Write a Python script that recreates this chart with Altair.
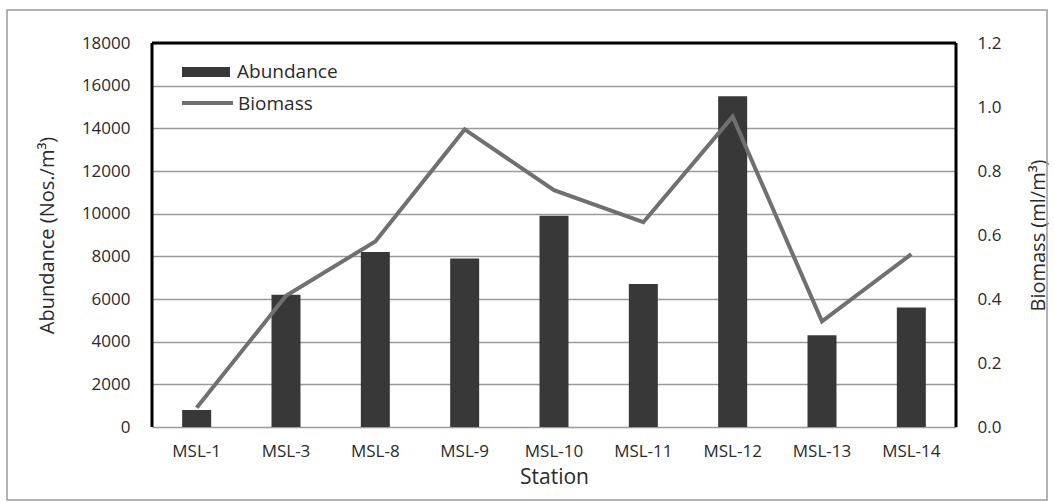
import altair as alt
import pandas as pd

# Zooplankton abundance and biomass per sampling station
stations = ["MSL-1", "MSL-3", "MSL-8", "MSL-9", "MSL-10", "MSL-11", "MSL-12", "MSL-13", "MSL-14"]
abundance = [800, 6200, 8200, 7900, 9900, 6700, 15500, 4300, 5600]
biomass = [0.06, 0.41, 0.58, 0.93, 0.74, 0.64, 0.97, 0.33, 0.54]

abundance_ticks = [0, 2000, 4000, 6000, 8000, 10000, 12000, 14000, 16000, 18000]
biomass_ticks = [0.0, 0.2, 0.4, 0.6, 0.8, 1.0, 1.2]

df = pd.DataFrame({"Station": stations, "Abundance": abundance, "Biomass": biomass})
one = pd.DataFrame({"k": [0]})

W, H = 804, 384
FONT = "Open Sans"
TXT = "#2a2a2a"

x_enc = alt.X(
    "Station:N",
    sort=stations,
    scale=alt.Scale(paddingInner=0, paddingOuter=0),
    axis=alt.Axis(
        title="Station", labelAngle=0, labelFontSize=17, labelFont=FONT, labelColor=TXT,
        labelPadding=16, ticks=False, domain=False, grid=False,
        titleFontSize=21, titleFont=FONT, titleColor=TXT, titleFontWeight="normal",
        titlePadding=7,
    ),
)

bars = alt.Chart(df).mark_bar(size=29, color="#383838").encode(
    x=x_enc,
    y=alt.Y(
        "Abundance:Q",
        scale=alt.Scale(domain=[0, 18000], nice=False),
        axis=alt.Axis(
            title="Abundance (Nos./m³)", values=abundance_ticks, format="d",
            labelFontSize=17, labelFont=FONT, labelColor=TXT, labelPadding=22,
            ticks=False, domain=False, grid=True, gridColor="#9a9a9a", gridWidth=1.6,
            titleFontSize=20, titleFont=FONT, titleColor=TXT, titleFontWeight="normal",
            titlePadding=24,
        ),
    ),
)

line = alt.Chart(df).mark_line(color="#707070", strokeWidth=4).encode(
    x=alt.X("Station:N", sort=stations),
    y=alt.Y(
        "Biomass:Q",
        scale=alt.Scale(domain=[0, 1.2], nice=False),
        axis=alt.Axis(
            title="Biomass (ml/m³)", orient="right", values=biomass_ticks, format=".1f",
            labelFontSize=17, labelFont=FONT, labelColor=TXT, labelPadding=21,
            ticks=False, domain=False, grid=False,
            titleFontSize=20, titleFont=FONT, titleColor=TXT, titleFontWeight="normal",
            titleAngle=270, titlePadding=48,
        ),
    ),
)

# Plot frame: heavy black lines on left, top and right
frame_left = alt.Chart(one).mark_rule(color="black", strokeWidth=3).encode(
    x=alt.value(0), y=alt.value(0), y2=alt.value(H))
frame_top = alt.Chart(one).mark_rule(color="black", strokeWidth=3).encode(
    x=alt.value(0), x2=alt.value(W), y=alt.value(0))
frame_right = alt.Chart(one).mark_rule(color="black", strokeWidth=3).encode(
    x=alt.value(W), y=alt.value(0), y2=alt.value(H))

# Thin border around the whole figure
border = alt.Chart(one).mark_rect(filled=False, stroke="#9a9a9a", strokeWidth=1.5).encode(
    x=alt.value(-145), x2=alt.value(895), y=alt.value(-33), y2=alt.value(457))

# Legend drawn inside the plot, top left
leg_bar = alt.Chart(one).mark_rect(color="#383838").encode(
    x=alt.value(30), x2=alt.value(78), y=alt.value(24), y2=alt.value(34))
leg_bar_txt = alt.Chart(one).mark_text(
    text="Abundance", align="left", baseline="middle", fontSize=19, font=FONT, color=TXT
).encode(x=alt.value(85), y=alt.value(29))
leg_line = alt.Chart(one).mark_rule(color="#707070", strokeWidth=4).encode(
    x=alt.value(30), x2=alt.value(81), y=alt.value(60))
leg_line_txt = alt.Chart(one).mark_text(
    text="Biomass", align="left", baseline="middle", fontSize=19, font=FONT, color=TXT
).encode(x=alt.value(86), y=alt.value(61))

data_layers = alt.layer(bars, line).resolve_scale(y="independent")

chart = alt.layer(
    border, data_layers, frame_left, frame_top, frame_right,
    leg_bar, leg_bar_txt, leg_line, leg_line_txt,
).resolve_scale(y="independent").properties(
    width=W, height=H,
    autosize=alt.AutoSizeParams(type="none"),
    padding={"left": 152, "top": 43, "right": 98, "bottom": 75},
    background="white",
).configure_view(stroke=None)

chart.save("out.html", embed_options={"renderer": "svg", "actions": False})
